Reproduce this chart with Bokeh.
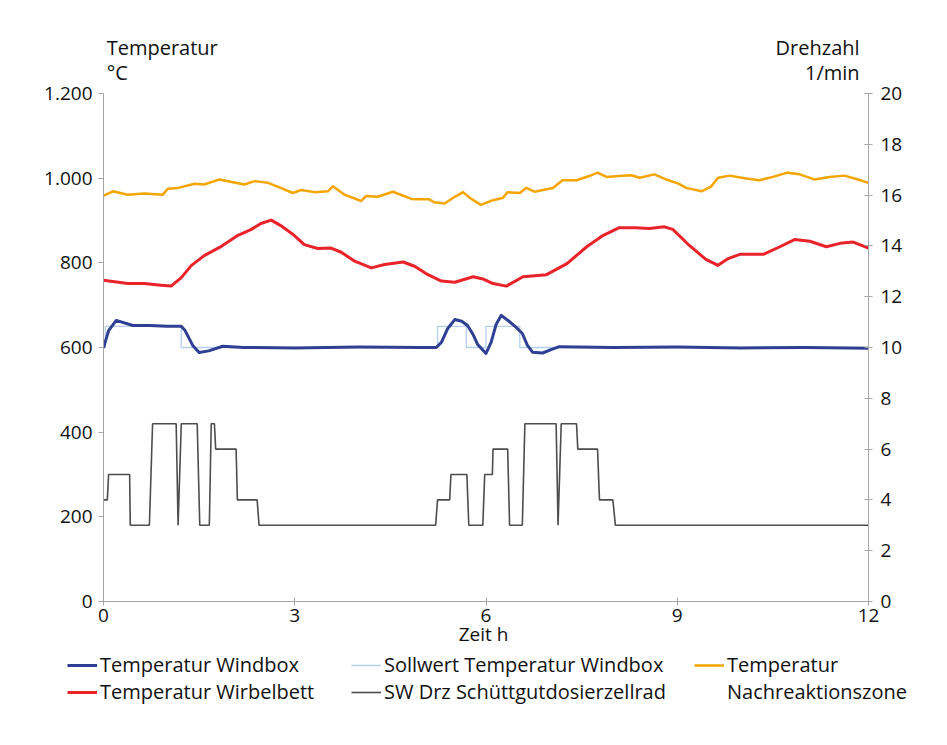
from bokeh.plotting import figure
from bokeh.models import Range1d, LinearAxis, FixedTicker, Label, Legend, LegendItem
from bokeh.layouts import column
from bokeh.embed import file_html
from bokeh.resources import INLINE

# ---- data ----
# Temperatur Nachreaktionszone (°C)
t_nrz = [0, 0.15, 0.38, 0.64, 0.93, 1.01, 1.17, 1.43, 1.58, 1.82, 2.05, 2.21, 2.37, 2.58, 2.73,
         2.97, 3.10, 3.31, 3.52, 3.60, 3.78, 4.04, 4.12, 4.30, 4.54, 4.83, 4.98, 5.11, 5.19, 5.35,
         5.51, 5.64, 5.77, 5.92, 6.11, 6.26, 6.34, 6.53, 6.63, 6.76, 7.05, 7.20, 7.42, 7.62, 7.75,
         7.89, 8.09, 8.28, 8.41, 8.64, 8.86, 9.02, 9.14, 9.38, 9.53, 9.64, 9.82, 10.08, 10.29, 10.50,
         10.73, 10.92, 11.15, 11.39, 11.62, 11.81, 12.0]
v_nrz = [959, 969, 961, 964, 961, 975, 977, 987, 985, 997, 990, 985, 993, 989, 980,
         965, 972, 967, 969, 981, 961, 946, 958, 956, 968, 951, 950, 950, 943, 940,
         956, 967, 951, 937, 948, 953, 967, 965, 977, 968, 977, 995, 995, 1005, 1013,
         1003, 1005, 1007, 1001, 1009, 995, 987, 977, 969, 980, 1001, 1006, 999, 995, 1003,
         1013, 1009, 997, 1003, 1006, 998, 989]

# Temperatur Wirbelbett (°C)
t_wb = [0, 0.38, 0.64, 0.90, 1.06, 1.22, 1.38, 1.58, 1.85, 2.11, 2.32, 2.47, 2.63, 2.78, 2.99,
        3.15, 3.36, 3.57, 3.73, 3.94, 4.20, 4.41, 4.70, 4.88, 5.09, 5.30, 5.51, 5.80, 5.95, 6.11,
        6.32, 6.58, 6.95, 7.27, 7.58, 7.84, 8.09, 8.35, 8.56, 8.80, 8.93, 9.19, 9.45, 9.64, 9.80,
        9.98, 10.35, 10.61, 10.84, 11.08, 11.34, 11.55, 11.76, 12.0]
v_wb = [759, 751, 751, 747, 745, 765, 794, 817, 839, 865, 879, 893, 901, 888, 865,
        843, 834, 835, 825, 804, 788, 796, 802, 792, 772, 757, 754, 767, 762, 751,
        745, 767, 772, 798, 838, 865, 883, 883, 881, 885, 879, 841, 808, 794, 810,
        820, 820, 838, 855, 851, 838, 846, 849, 835]

# Temperatur Windbox (°C)
t_wbx = [0, 0.08, 0.20, 0.46, 0.72, 1.0, 1.22, 1.28, 1.40, 1.50, 1.65, 1.87, 2.2, 3.0, 4.0,
         5.0, 5.22, 5.30, 5.40, 5.51, 5.62, 5.71, 5.80, 5.87, 6.00, 6.08, 6.16, 6.24, 6.36, 6.47,
         6.57, 6.65, 6.73, 6.89, 7.02, 7.15, 8.0, 9.0, 10.0, 11.0, 12.0]
v_wbx = [599, 640, 664, 652, 652, 650, 650, 640, 605, 588, 592, 603, 600, 599, 601,
         600, 600, 612, 645, 666, 662, 652, 630, 607, 586, 612, 655, 676, 662, 648,
         633, 605, 589, 587, 595, 602, 600, 601, 599, 600, 598]

# Sollwert Temperatur Windbox (°C)
t_sw = [0, 0.03, 0.03, 1.22, 1.22, 5.24, 5.24, 5.69, 5.69, 6.00, 6.00, 6.53, 6.53, 12]
v_sw = [600, 600, 650, 650, 600, 600, 650, 650, 600, 600, 650, 650, 600, 600]

# SW Drz Schüttgutdosierzellrad (1/min)
t_drz = [0, 0.06, 0.08, 0.41, 0.42, 0.72, 0.77, 1.14, 1.17, 1.22, 1.47, 1.51, 1.66, 1.69, 1.74,
         1.76, 2.08, 2.10, 2.41, 2.44, 5.21, 5.24, 5.43, 5.45, 5.70, 5.73, 5.95, 5.98, 6.10, 6.11,
         6.34, 6.37, 6.57, 6.61, 7.10, 7.13, 7.18, 7.42, 7.44, 7.75, 7.78, 7.99, 8.03, 12]
v_drz = [4, 4, 5, 5, 3, 3, 7, 7, 3, 7, 7, 3, 3, 7, 7,
         6, 6, 4, 4, 3, 3, 4, 4, 5, 5, 3, 3, 5, 5, 6,
         6, 3, 3, 7, 7, 3, 7, 7, 6, 6, 4, 4, 3, 3]

x_ticks = [0, 3, 6, 9, 12]
y_ticks = [0, 200, 400, 600, 800, 1000, 1200]
y_tick_labels = {0: "0", 200: "200", 400: "400", 600: "600", 800: "800", 1000: "1.000", 1200: "1.200"}
y2_ticks = [0, 2, 4, 6, 8, 10, 12, 14, 16, 18, 20]
y_max, y2_max = 1200, 20

FONT = "Open Sans"
AXIS_COLOR = "#a6a6a6"
TXT = "#111111"
C_WBX, C_SW, C_WB, C_NRZ, C_DRZ = "#2e3f94", "#b3cfee", "#e8232a", "#f5a500", "#4d4d4d"

AXIS_H = 508      # pixel height of the 0..1200 axis
HEAD = 62         # extra room above the axes for the axis titles
scale_top = (AXIS_H + HEAD) / AXIS_H
W = 103 + 765 + 64

p = figure(frame_width=765, frame_height=AXIS_H + HEAD,
           min_border_left=103, min_border_top=31, min_border_right=64, min_border_bottom=0,
           x_range=Range1d(0, 12), y_range=Range1d(0, y_max * scale_top),
           output_backend="svg", toolbar_location=None)
p.extra_y_ranges = {"rpm": Range1d(0, y2_max * scale_top)}
p.xgrid.visible = False
p.ygrid.visible = False
p.outline_line_color = None
p.background_fill_color = "white"
p.border_fill_color = "white"

p.line(t_drz, v_drz, y_range_name="rpm", line_color=C_DRZ, line_width=1.6)
p.line(t_sw, v_sw, line_color=C_SW, line_width=1.3)
p.line(t_wbx, v_wbx, line_color=C_WBX, line_width=3, line_join="round")
p.line(t_wb, v_wb, line_color=C_WB, line_width=3, line_join="round")
p.line(t_nrz, v_nrz, line_color=C_NRZ, line_width=2.5, line_join="round")

# x axis
xa = p.xaxis[0]
xa.ticker = FixedTicker(ticks=x_ticks)
xa.axis_label = "Zeit  h"
xa.axis_label_text_font = FONT
xa.axis_label_text_font_style = "normal"
xa.axis_label_text_font_size = "19px"
xa.axis_label_text_color = TXT
xa.axis_label_standoff = -4
xa.major_label_text_font = FONT
xa.major_label_text_font_size = "19px"
xa.major_label_text_color = TXT
xa.major_label_standoff = 3
xa.major_tick_in = 4
xa.major_tick_out = 4
xa.minor_tick_line_color = None
xa.axis_line_color = AXIS_COLOR
xa.major_tick_line_color = AXIS_COLOR

# left axis
ya = p.yaxis[0]
ya.ticker = FixedTicker(ticks=y_ticks)
ya.bounds = (0, y_max)
ya.major_label_overrides = y_tick_labels
ya.major_label_text_font = FONT
ya.major_label_text_font_size = "19px"
ya.major_label_text_color = TXT
ya.major_label_standoff = 6
ya.major_tick_in = 0
ya.major_tick_out = 5
ya.minor_tick_line_color = None
ya.axis_line_color = AXIS_COLOR
ya.major_tick_line_color = AXIS_COLOR

# right axis
ra = LinearAxis(y_range_name="rpm", ticker=FixedTicker(ticks=y2_ticks), bounds=(0, y2_max))
ra.major_label_text_font = FONT
ra.major_label_text_font_size = "19px"
ra.major_label_text_color = TXT
ra.major_label_standoff = 8
ra.major_tick_in = 4
ra.major_tick_out = 4
ra.minor_tick_line_color = None
ra.axis_line_color = AXIS_COLOR
ra.major_tick_line_color = AXIS_COLOR
p.add_layout(ra, "right")

# axis titles (inside the head room of the frame)
for txt, xx, yy, al in [("Temperatur", 0.05, 1309, "left"), ("°C", 0.05, 1250, "left"),
                        ("Drehzahl", 11.86, 1309, "right"), ("1/min", 11.86, 1250, "right")]:
    p.add_layout(Label(x=xx, y=yy, text=txt, text_align=al, text_baseline="middle",
                       text_font=FONT, text_font_size="20px", text_color=TXT))

# ---- legend strip below the chart ----
LH = 80
q = figure(frame_width=W, frame_height=LH, min_border=0,
           x_range=Range1d(0, 1), y_range=Range1d(0, 1),
           output_backend="svg", toolbar_location=None)
q.axis.visible = False
q.xgrid.visible = False
q.ygrid.visible = False
q.outline_line_color = None
q.border_fill_color = "white"

nan = [float("nan")]   # legend-only renderers: nothing is drawn in the strip itself
g_wbx = q.line(nan, nan, line_color=C_WBX, line_width=3)
g_sw = q.line(nan, nan, line_color=C_SW, line_width=1.5)
g_nrz = q.line(nan, nan, line_color=C_NRZ, line_width=2.5)
g_wb = q.line(nan, nan, line_color=C_WB, line_width=3)
g_drz = q.line(nan, nan, line_color=C_DRZ, line_width=1.6)
g_none = q.line(nan, nan, line_alpha=0)

columns_legend = [
    (67, [("Temperatur Windbox", g_wbx), ("Temperatur Wirbelbett", g_wb)]),
    (351, [("Sollwert Temperatur Windbox", g_sw), ("SW Drz Schüttgutdosierzellrad", g_drz)]),
    (694, [("Temperatur", g_nrz), ("Nachreaktionszone", g_none)]),
]
for xpos, entries in columns_legend:
    lg = Legend(items=[LegendItem(label=lab, renderers=[r]) for lab, r in entries],
                location=(xpos, LH - 56))
    lg.label_text_font = FONT
    lg.label_text_font_size = "20px"
    lg.label_text_color = TXT
    lg.glyph_width = 30
    lg.glyph_height = 20
    lg.label_standoff = 3
    lg.spacing = -5
    lg.padding = 0
    lg.margin = 0
    lg.border_line_color = None
    lg.background_fill_alpha = 0
    q.add_layout(lg, "center")

layout = column(p, q, spacing=0)
open("out.html", "w").write(file_html(layout, INLINE))
